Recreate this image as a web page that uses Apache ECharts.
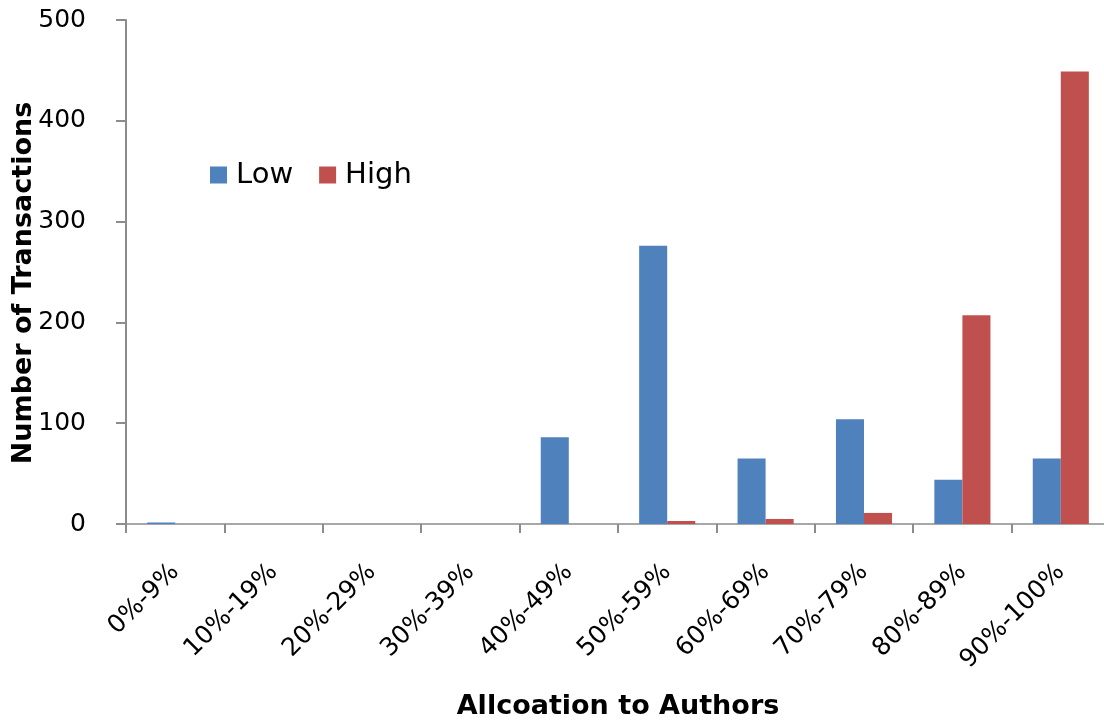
<!DOCTYPE html>
<html>
<head>
<meta charset="utf-8">
<script src="https://cdn.jsdelivr.net/npm/echarts@6/dist/echarts.min.js"></script>
<style>
html,body{margin:0;padding:0;background:#fff;}
#chart{width:1104px;height:725px;}
</style>
</head>
<body>
<div id="chart"></div>
<script>
const categories = ['0%-9%','10%-19%','20%-29%','30%-39%','40%-49%','50%-59%','60%-69%','70%-79%','80%-89%','90%-100%'];
const lowValues = [1.5, 0, 0, 0, 86, 276, 65, 104, 44, 65];
const highValues = [0, 0, 0, 0, 0, 3, 5, 11, 207, 449];
const yTicks = [0, 100, 200, 300, 400, 500];

const FONT = 'DejaVu Sans';
const chart = echarts.init(document.getElementById('chart'));
chart.setOption({
  animation: false,
  textStyle: { fontFamily: FONT },
  grid: { left: 126, right: -6, top: 20, bottom: 201, containLabel: false, outerBoundsMode: 'none' },
  legend: {
    data: ['Low', 'High'],
    left: 205, top: 155,
    itemWidth: 17, itemHeight: 17, itemGap: 26,
    icon: 'rect',
    textStyle: { fontSize: 29, lineHeight: 30, color: '#000', fontFamily: FONT, padding: [0,0,0,4] }
  },
  xAxis: {
    type: 'category',
    data: categories,
    name: 'Allcoation to Authors',
    nameLocation: 'middle',
    nameGap: 169,
    nameMoveOverlap: false,
    nameTextStyle: { fontSize: 27, fontWeight: 'bold', color: '#000', fontFamily: FONT },
    axisLine: { lineStyle: { color: '#8c8c8c', width: 1.5 } },
    axisTick: { show: true, length: 9, lineStyle: { color: '#8c8c8c', width: 2 } },
    axisLabel: { rotate: 45, interval: 0, fontSize: 25, color: '#000', margin: 44, fontFamily: FONT }
  },
  yAxis: {
    type: 'value',
    min: yTicks[0], max: yTicks[yTicks.length - 1], interval: 100,
    name: 'Number of Transactions',
    nameLocation: 'middle',
    nameGap: 89,
    nameMoveOverlap: false,
    nameTextStyle: { fontSize: 27, fontWeight: 'bold', color: '#000', fontFamily: FONT, padding: [0, 22, 0, 0] },
    axisLine: { show: true, lineStyle: { color: '#8c8c8c', width: 2 } },
    axisTick: { show: true, length: 10, lineStyle: { color: '#8c8c8c', width: 2 } },
    splitLine: { show: false },
    axisLabel: { fontSize: 25, color: '#000', margin: 40, fontFamily: FONT }
  },
  series: [
    {
      name: 'Low', type: 'bar', data: lowValues,
      barWidth: '28.5%', barGap: '0%',
      itemStyle: { color: '#4F81BD', borderWidth: 0 }
    },
    {
      name: 'High', type: 'bar', data: highValues,
      barWidth: '28.5%',
      itemStyle: { color: '#C0504D', borderWidth: 0 }
    }
  ]
});
</script>
</body>
</html>
